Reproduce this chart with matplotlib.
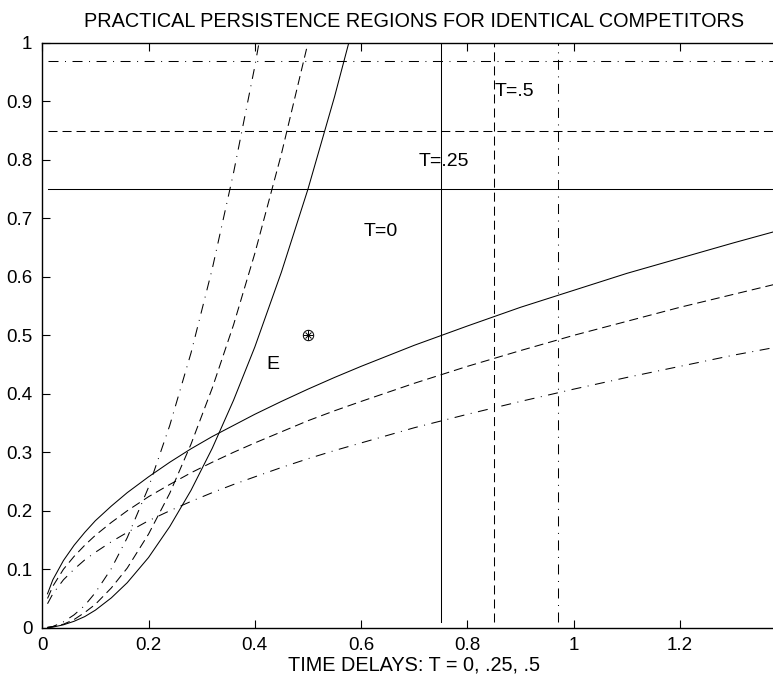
import matplotlib
matplotlib.use("Agg")
import matplotlib.pyplot as plt

plt.rcParams['font.family'] = ['Liberation Sans', 'DejaVu Sans']
plt.rcParams['lines.scale_dashes'] = False

# shared x grid for the concave (lower) boundaries
x_low = [0.01, 0.02, 0.04, 0.06, 0.08, 0.1, 0.13, 0.16, 0.2, 0.24, 0.28, 0.32, 0.36,
         0.4, 0.45, 0.5, 0.55, 0.6, 0.7, 0.8, 0.9, 1.0, 1.1, 1.2, 1.3, 1.4]
low_T0 = [0.058, 0.082, 0.115, 0.141, 0.163, 0.183, 0.208, 0.231, 0.258, 0.283, 0.306, 0.327, 0.346,
          0.365, 0.387, 0.408, 0.428, 0.447, 0.483, 0.516, 0.548, 0.577, 0.606, 0.632, 0.658, 0.683]
low_T25 = [0.050, 0.071, 0.100, 0.122, 0.141, 0.158, 0.180, 0.200, 0.224, 0.245, 0.265, 0.283, 0.300,
           0.316, 0.335, 0.354, 0.371, 0.387, 0.418, 0.447, 0.474, 0.500, 0.524, 0.548, 0.570, 0.592]
low_T5 = [0.041, 0.058, 0.082, 0.100, 0.116, 0.129, 0.147, 0.163, 0.183, 0.200, 0.216, 0.231, 0.245,
          0.258, 0.274, 0.289, 0.303, 0.316, 0.342, 0.365, 0.387, 0.408, 0.428, 0.447, 0.466, 0.483]

# x grid for the steep (convex) boundaries
x_up = [0.01, 0.02, 0.04, 0.06, 0.08, 0.1, 0.13, 0.16, 0.2, 0.24, 0.28, 0.32, 0.36,
        0.4, 0.45, 0.5, 0.55, 0.6]
up_T0 = [0.000, 0.001, 0.005, 0.011, 0.019, 0.030, 0.051, 0.077, 0.120, 0.173, 0.235, 0.307, 0.389,
         0.480, 0.608, 0.750, 0.908, 1.080]
up_T25 = [0.000, 0.002, 0.006, 0.014, 0.026, 0.040, 0.068, 0.102, 0.160, 0.230, 0.314, 0.410, 0.518,
          0.640, 0.810, 1.000, 1.210, 1.440]
up_T5 = [0.001, 0.002, 0.010, 0.022, 0.038, 0.060, 0.101, 0.154, 0.240, 0.346, 0.470, 0.614, 0.778,
         0.960, 1.215, 1.500, 1.815, 2.160]

# threshold lines, one per delay
delays = [0.75, 0.85, 0.97]
styles = ['-', (0, (6.5, 3.6)), (0, (7.2, 4.7, 0.7, 4.7))]
labels = ['T=0', 'T=.25', 'T=.5']
label_xy = [(0.605, 0.677), (0.709, 0.798), (0.851, 0.917)]

eq_x, eq_y = 0.5, 0.5

fig = plt.figure(figsize=(7.73, 6.77), dpi=100)
ax = fig.add_axes([0.0546, 0.0728, 0.9626, 0.8637])

lw = 0.75
for d, ls, lo, up in zip(delays, styles, [low_T0, low_T25, low_T5], [up_T0, up_T25, up_T5]):
    ax.plot(x_low, lo, color='k', lw=lw, linestyle=ls)
    ax.plot(x_up, up, color='k', lw=lw, linestyle=ls)
    ax.plot([0.01, 1.4], [d, d], color='k', lw=lw, linestyle=ls)
    ax.plot([d, d], [0.01, 1.0], color='k', lw=lw, linestyle=ls)

ax.plot(eq_x, eq_y, 'o', mfc='none', mec='k', ms=7.5, mew=0.7)
ax.plot(eq_x, eq_y, '+', color='k', ms=6.5, mew=0.7)
ax.plot(eq_x, eq_y, 'x', color='k', ms=5, mew=0.7)

for t, (tx, ty) in zip(labels, label_xy):
    ax.text(tx, ty, t, fontsize=14, ha='left', va='center')
ax.text(0.422, 0.45, 'E', fontsize=14, ha='left', va='center')

ax.set_xlim(0, 1.4)
ax.set_ylim(0, 1)
ax.set_xticks([0, 0.2, 0.4, 0.6, 0.8, 1.0, 1.2])
ax.set_xticklabels(['0', '0.2', '0.4', '0.6', '0.8', '1', '1.2'])
ax.set_yticks([0, 0.1, 0.2, 0.3, 0.4, 0.5, 0.6, 0.7, 0.8, 0.9, 1.0])
ax.set_yticklabels(['0', '0.1', '0.2', '0.3', '0.4', '0.5', '0.6', '0.7', '0.8', '0.9', '1'])
ax.tick_params(direction='in', length=5.5, width=0.8, top=True, right=False, labelsize=13.5, pad=7)
for s in ax.spines.values():
    s.set_linewidth(1.0)

ax.set_title('PRACTICAL PERSISTENCE REGIONS FOR IDENTICAL COMPETITORS', fontsize=14.3, pad=11.5)
ax.set_xlabel('TIME DELAYS: T = 0, .25, .5', fontsize=14.3, labelpad=1)

plt.savefig('out.png', dpi=100)
